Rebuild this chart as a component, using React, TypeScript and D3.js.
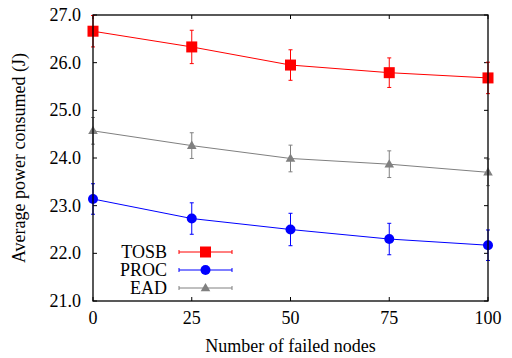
import React from "react";
import * as d3 from "d3";

const xValues = [0, 25, 50, 75, 100];
const seriesNames = ["TOSB", "PROC", "EAD"];
const tosbMean = [26.66, 26.33, 25.95, 25.79, 25.68];
const tosbErr = [0.33, 0.35, 0.32, 0.31, 0.33];
const procMean = [23.14, 22.73, 22.5, 22.3, 22.17];
const procErr = [0.32, 0.33, 0.34, 0.33, 0.32];
const eadMean = [24.57, 24.26, 23.99, 23.87, 23.7];
const eadErr = [0.28, 0.27, 0.28, 0.28, 0.28];
const yTicks = [21, 22, 23, 24, 25, 26, 27];
const xTicks = [0, 25, 50, 75, 100];

const W = 512, H = 358;
const M = { left: 93, right: 24, top: 15, bottom: 57 };

export default function App() {
  const x = d3.scaleLinear().domain([0, 100]).range([M.left, W - M.right]);
  const y = d3.scaleLinear().domain([21, 27]).range([H - M.bottom, M.top]);
  const line = d3.line<number>().x((_, i) => x(xValues[i])).y((d) => y(d));

  const series = [
    { name: seriesNames[0], mean: tosbMean, err: tosbErr, color: "#ff0000", shape: "square" },
    { name: seriesNames[1], mean: procMean, err: procErr, color: "#0000ff", shape: "circle" },
    { name: seriesNames[2], mean: eadMean, err: eadErr, color: "#808080", shape: "triangle" },
  ];

  const marker = (shape: string, cx: number, cy: number, color: string, key?: any) => {
    if (shape === "square") return <rect key={key} x={cx - 5.5} y={cy - 5.5} width={11} height={11} fill={color} />;
    if (shape === "circle") return <circle key={key} cx={cx} cy={cy} r={5} fill={color} />;
    const sym = d3.symbol().type(d3.symbolTriangle).size(40)();
    return <path key={key} d={sym || ""} transform={`translate(${cx},${cy + 0.5})`} fill={color} />;
  };

  const x0 = M.left, x1 = W - M.right, y0 = H - M.bottom, y1 = M.top;
  const tl = 4;
  const textStyle = { fontFamily: "Liberation Serif", fontSize: "18px" };

  return (
    <svg width={W} height={H} style={{ position: "absolute", left: 0, top: 0 }}>
      <rect width={W} height={H} fill="#fff" />
      {yTicks.map((t) => (
        <g key={"y" + t}>
          <line x1={x0} x2={x0 + tl} y1={y(t)} y2={y(t)} stroke="#000" />
          <line x1={x1} x2={x1 - tl} y1={y(t)} y2={y(t)} stroke="#000" />
          <text x={81} y={y(t)} dy="0.33em" textAnchor="end" style={textStyle} fill="#000">
            {t.toFixed(1)}
          </text>
        </g>
      ))}
      {xTicks.map((t) => (
        <g key={"x" + t}>
          <line x1={x(t)} x2={x(t)} y1={y0} y2={y0 - tl} stroke="#000" />
          <line x1={x(t)} x2={x(t)} y1={y1} y2={y1 + tl} stroke="#000" />
          <text x={x(t)} y={324} textAnchor="middle" style={textStyle} fill="#000">
            {t}
          </text>
        </g>
      ))}
      {series.map((s) => (
        <g key={s.name}>
          <path d={line(s.mean) || ""} fill="none" stroke={s.color} strokeWidth={1} />
          {s.mean.map((m, i) => {
            const cx = x(xValues[i]);
            return (
              <g key={i}>
                <line x1={cx} x2={cx} y1={y(m - s.err[i])} y2={y(m + s.err[i])} stroke={s.color} strokeWidth={1} />
                <line x1={cx - 2} x2={cx + 2} y1={y(m - s.err[i])} y2={y(m - s.err[i])} stroke={s.color} strokeWidth={1} />
                <line x1={cx - 2} x2={cx + 2} y1={y(m + s.err[i])} y2={y(m + s.err[i])} stroke={s.color} strokeWidth={1} />
                {marker(s.shape, cx, y(m), s.color)}
              </g>
            );
          })}
        </g>
      ))}
      <rect x={x0} y={y1} width={x1 - x0} height={y0 - y1} fill="none" stroke="#000" strokeWidth={1.3} />
      {series.map((s, i) => {
        const ly = 252 + i * 18;
        return (
          <g key={"leg" + s.name}>
            <text x={167} y={ly} dy="0.33em" textAnchor="end" style={textStyle} fill="#000">
              {s.name}
            </text>
            <line x1={179} x2={232} y1={ly} y2={ly} stroke={s.color} strokeWidth={1} />
            <line x1={179} x2={179} y1={ly - 2} y2={ly + 2} stroke={s.color} strokeWidth={1} />
            <line x1={232} x2={232} y1={ly - 2} y2={ly + 2} stroke={s.color} strokeWidth={1} />
            {marker(s.shape, 205.5, ly, s.color)}
          </g>
        );
      })}
      <text x={(x0 + x1) / 2} y={352} textAnchor="middle" style={textStyle} fill="#000">
        Number of failed nodes
      </text>
      <text
        transform={`translate(25,${(y0 + y1) / 2}) rotate(-90)`}
        textAnchor="middle"
        style={textStyle}
        fill="#000"
      >
        Average power consumed (J)
      </text>
    </svg>
  );
}
